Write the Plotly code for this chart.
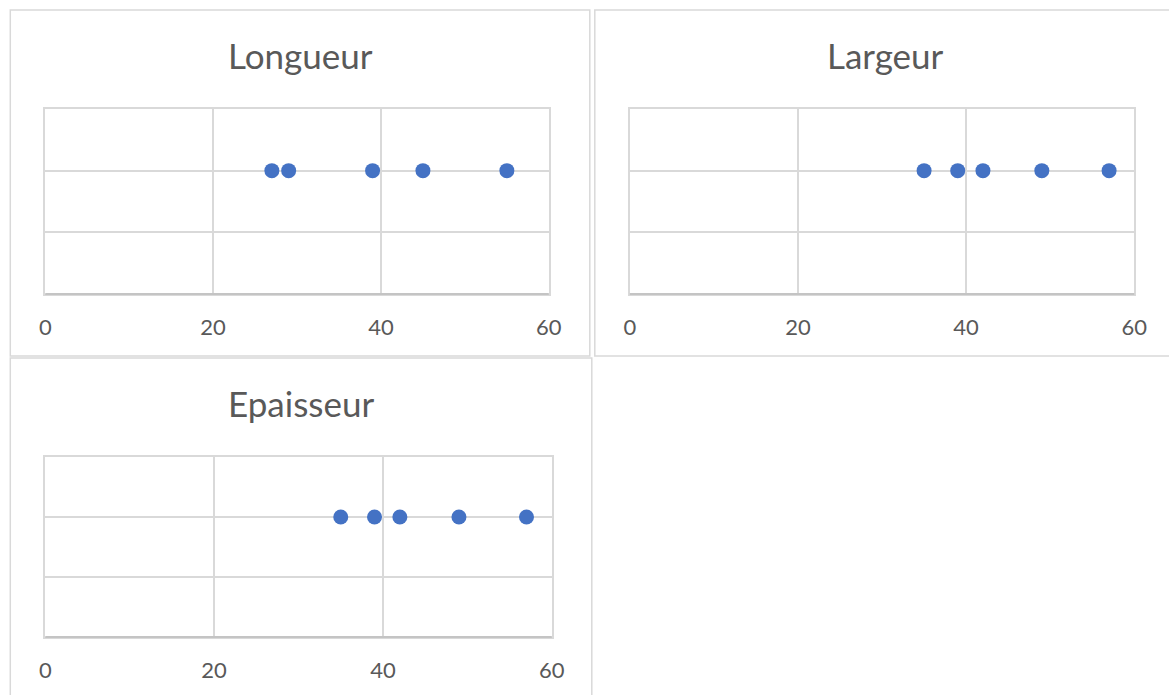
import plotly.graph_objects as go

W, H = 1169, 695

titles = ["Longueur", "Largeur", "Epaisseur"]
longueur = [27, 29, 39, 45, 55]
largeur = [35, 39, 42, 49, 57]
epaisseur = [35, 39, 42, 49, 57]
level = 1
x_ticks = [0, 20, 40, 60]

series = [longueur, largeur, epaisseur]

# layout in pixels: chart box (x0, y0, x1, y1), plot area (x0, x1, ytop, ybottom), title center (x, y)
boxes = [(9, 10, 589, 356), (594, 10, 1185, 356), (9, 358, 591, 700)]
plots = [(44, 548, 109, 294), (629, 1134, 109, 294), (44, 551, 457, 637)]
title_pos = [(299, 55), (885, 55), (300, 403)]

# horizontal correction for the capture pipeline
SX, OX = 0.9846, 4.7

def px(x):
    return ((x - OX) / SX) / W

def py(y):
    return 1 - y / H

fig = go.Figure()
GRID = "#d9d9d9"
AXIS = "#c4c4c4"
TXT = "#595959"
FONT = "Lato"

for i, (vals, t) in enumerate(zip(series, titles)):
    n = "" if i == 0 else str(i + 1)
    fig.add_trace(go.Scatter(
        x=vals, y=[level] * len(vals), mode="markers",
        marker=dict(color="#4472C4", size=15, line=dict(width=0)),
        xaxis="x" + n, yaxis="y" + n, showlegend=False, hoverinfo="x"))
    x0, x1, yt, yb = plots[i]
    fig.layout["xaxis" + n] = dict(
        domain=[px(x0), px(x1)], range=[0, 60], tickvals=x_ticks,
        showgrid=True, gridcolor=GRID, gridwidth=2, zeroline=False,
        showline=True, linecolor=GRID, linewidth=2, mirror=True,
        ticks="outside", ticklen=13, tickcolor="rgba(0,0,0,0)",
        tickfont=dict(family=FONT, size=22, color=TXT),
        anchor="y" + n, fixedrange=True)
    fig.layout["yaxis" + n] = dict(
        domain=[py(yb), py(yt)], range=[0, 1.5], tickvals=[0, 0.5, 1.0, 1.5],
        showgrid=True, gridcolor=GRID, gridwidth=2, zeroline=False,
        showline=True, linecolor=GRID, linewidth=2, mirror=True,
        showticklabels=False, anchor="x" + n, fixedrange=True)
    # slightly darker horizontal axis line along the bottom of the plot area
    fig.add_shape(type="line", xref=f"x{n} domain", yref=f"y{n} domain",
                  x0=0, x1=1, y0=0, y1=0, line=dict(color=AXIS, width=2))
    bx0, by0, bx1, by1 = boxes[i]
    fig.add_shape(type="rect", xref="paper", yref="paper",
                  x0=px(bx0), x1=px(bx1), y0=py(by1), y1=py(by0),
                  line=dict(color=GRID, width=1.5), fillcolor="rgba(0,0,0,0)", layer="below")
    tx, ty = title_pos[i]
    fig.add_annotation(text=t, xref="paper", yref="paper", x=px(tx), y=py(ty),
                       xanchor="center", yanchor="middle", showarrow=False,
                       font=dict(family=FONT, size=35, color=TXT))

fig.update_layout(width=W, height=H, autosize=False, margin=dict(l=0, r=0, t=0, b=0),
                  paper_bgcolor="white", plot_bgcolor="white")

fig.write_html(
    "out.html",
    config={"responsive": False, "displayModeBar": False},
    post_script="document.body.style.margin='0';document.body.style.padding='0';"
                "document.body.style.overflow='hidden';"
                "document.documentElement.style.overflow='hidden';",
)
